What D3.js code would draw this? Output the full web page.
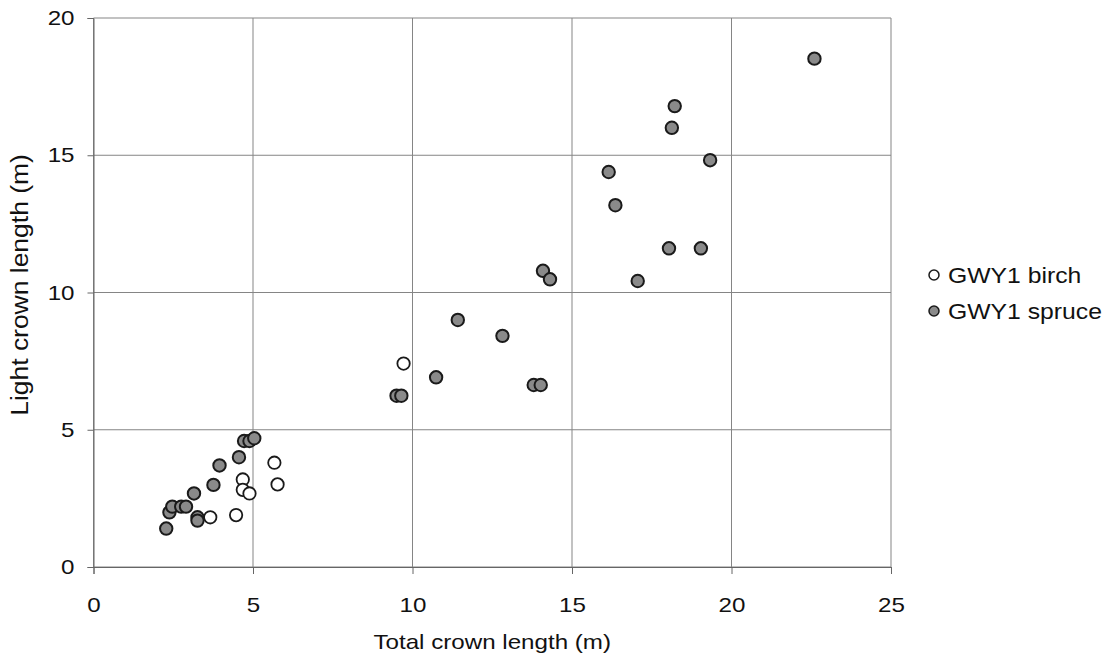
<!DOCTYPE html>
<html>
<head>
<meta charset="utf-8">
<script src="https://cdn.jsdelivr.net/npm/d3@7"></script>
<style>
  body { margin: 0; background: #fff; }
  text { font-family: "Liberation Sans", Arial, sans-serif; fill: #111; }
</style>
</head>
<body>
<script>
"use strict";

/* total crown length (x) / light crown length (y) */
var birchX = [3.66, 4.47, 4.68, 4.68, 4.89, 5.67, 5.77, 9.72];
var birchY = [1.81, 1.89, 3.19, 2.81, 2.68, 3.80, 3.01, 7.41];

var spruceX = [2.28, 2.38, 2.47, 2.75, 2.90, 3.15, 3.26, 3.26, 3.76, 3.95, 4.56, 4.72, 4.89, 5.04,
               9.50, 9.65, 10.74, 11.42, 12.82, 13.80, 14.02, 14.09, 14.31,
               16.15, 16.36, 17.06, 18.04, 18.13, 18.22, 19.04, 19.33, 22.60];
var spruceY = [1.40, 1.99, 2.20, 2.20, 2.20, 2.68, 1.81, 1.69, 2.99, 3.70, 4.00, 4.59, 4.59, 4.69,
               6.24, 6.24, 6.91, 9.00, 8.42, 6.63, 6.63, 10.79, 10.48,
               14.39, 13.18, 10.42, 11.61, 16.00, 16.79, 11.61, 14.82, 18.52];

var xTicks = [0, 5, 10, 15, 20, 25];
var yTicks = [0, 5, 10, 15, 20];
var seriesNames = ["GWY1 birch", "GWY1 spruce"];

var W = 1109, H = 661;
var margin = {left: 93.5, top: 18, right: 218, bottom: 94};
var width = W - margin.left - margin.right,
    height = H - margin.top - margin.bottom;
var fontSize = "21px";
var stretch = 1.15; /* the scan's lettering is a bit wider than plain Arial */

var svg = d3.select("body").append("svg")
    .attr("width", W)
    .attr("height", H);

var g = svg.append("g")
    .attr("transform", "translate(" + margin.left + "," + margin.top + ")");

var x = d3.scaleLinear().domain([0, 25]).range([0, width]);
var y = d3.scaleLinear().domain([0, 20]).range([height, 0]);

/* grid */
g.selectAll(".vgrid").data(xTicks).enter().append("line")
    .attr("x1", function (d) { return x(d); })
    .attr("x2", function (d) { return x(d); })
    .attr("y1", 0).attr("y2", height)
    .attr("stroke", "#858585").attr("stroke-width", 1);
g.selectAll(".hgrid").data(yTicks).enter().append("line")
    .attr("y1", function (d) { return y(d); })
    .attr("y2", function (d) { return y(d); })
    .attr("x1", 0).attr("x2", width)
    .attr("stroke", "#858585").attr("stroke-width", 1);

/* axes */
var xAxis = g.append("g")
    .attr("transform", "translate(0," + height + ")")
    .call(d3.axisBottom(x).tickValues(xTicks).tickSize(7).tickPadding(23));
var yAxis = g.append("g")
    .call(d3.axisLeft(y).tickValues(yTicks).tickSize(6).tickPadding(13));

[xAxis, yAxis].forEach(function (a) {
  a.select(".domain").attr("stroke", "#666");
  a.selectAll(".tick line").attr("stroke", "#666");
  a.selectAll("text")
    .style("font-size", fontSize)
    .style("font-family", "'Liberation Sans', Arial, sans-serif")
    .attr("fill", "#111");
});

/* points */
var birch = birchX.map(function (v, i) { return [v, birchY[i]]; });
var spruce = spruceX.map(function (v, i) { return [v, spruceY[i]]; });

g.selectAll(".birch").data(birch).enter().append("circle")
    .attr("cx", function (d) { return x(d[0]); })
    .attr("cy", function (d) { return y(d[1]); })
    .attr("r", 6.2)
    .attr("fill", "#fff")
    .attr("stroke", "#1a1a1a")
    .attr("stroke-width", 1.8);

g.selectAll(".spruce").data(spruce).enter().append("circle")
    .attr("cx", function (d) { return x(d[0]); })
    .attr("cy", function (d) { return y(d[1]); })
    .attr("r", 6.2)
    .attr("fill", "#8a8a8a")
    .attr("stroke", "#1a1a1a")
    .attr("stroke-width", 2);

/* axis titles */
svg.append("text")
    .attr("x", margin.left + width / 2)
    .attr("y", 649)
    .attr("text-anchor", "middle")
    .style("font-size", fontSize)
    .text("Total crown length (m)");

var yTitle = svg.append("text")
    .attr("class", "ytitle")
    .attr("transform", "translate(28,285) rotate(-90)")
    .attr("text-anchor", "middle")
    .style("font-size", "23px")
    .text("Light crown length (m)");

/* legend */
var legend = svg.append("g").attr("transform", "translate(934,275)");
legend.selectAll("circle").data(seriesNames).enter().append("circle")
    .attr("cx", 0)
    .attr("cy", function (d, i) { return i * 36; })
    .attr("r", 5)
    .attr("fill", function (d, i) { return i === 0 ? "#fff" : "#8a8a8a"; })
    .attr("stroke", "#1a1a1a")
    .attr("stroke-width", 1.5);
legend.selectAll("text").data(seriesNames).enter().append("text")
    .attr("x", 14)
    .attr("y", function (d, i) { return i * 36; })
    .attr("dy", "0.35em")
    .style("font-size", "21.5px")
    .text(function (d) { return d; });

/* widen all lettering a little */
svg.selectAll("text").each(function () {
  var len = this.getComputedTextLength();
  d3.select(this)
    .attr("textLength", len * stretch)
    .attr("lengthAdjust", "spacingAndGlyphs");
});
</script>
</body>
</html>
